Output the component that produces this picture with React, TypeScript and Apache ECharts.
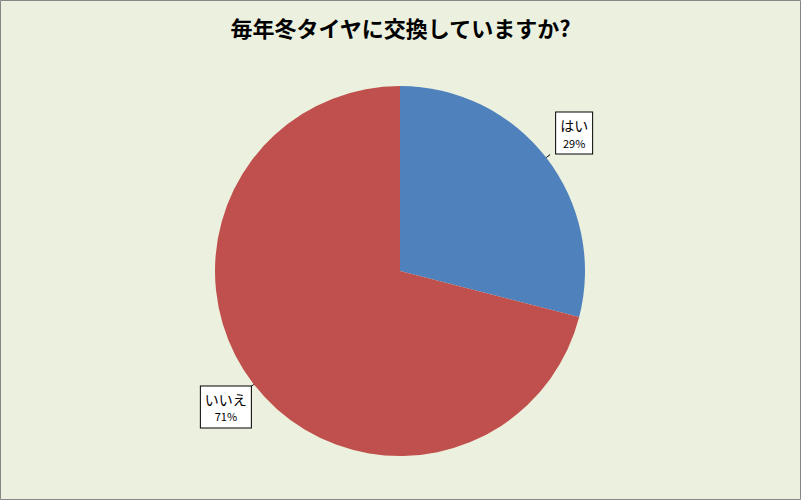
import React, { useEffect, useRef } from 'react'
import * as echarts from 'echarts'

const titleText = '毎年冬タイヤに交換していますか?'
const categories = ['はい', 'いいえ']
const values = [29, 71]
const colors = ['#4F81BD', '#C0504D']

const FONT = '"Noto Sans CJK JP", "Noto Sans", sans-serif'

const App = () => {
  const chartRef = useRef<HTMLDivElement>(null)

  useEffect(() => {
    if (!chartRef.current) return
    const chart = echarts.init(chartRef.current, null, { renderer: 'svg' })

    chart.setOption({
      animation: false,
      backgroundColor: '#EBF1DE',
      title: {
        text: titleText,
        left: 'center',
        top: 11,
        textStyle: { fontFamily: FONT, fontSize: 22, fontWeight: 'bold', color: '#000' },
      },
      graphic: [
        {
          type: 'rect',
          shape: { x: 0.5, y: 0.5, width: 800, height: 499 },
          style: { fill: 'none', stroke: '#868686', lineWidth: 1 },
          silent: true,
        },
      ],
      series: [
        {
          type: 'pie',
          center: [400, 271],
          radius: 185,
          startAngle: 90,
          clockwise: true,
          data: categories.map((name, i) => ({
            name,
            value: values[i],
            itemStyle: { color: colors[i] },
          })),
          label: {
            show: true,
            position: 'outside',
            formatter: '{a|{b}}\n{c|{d}%}',
            backgroundColor: '#fff',
            borderColor: '#000',
            borderWidth: 1,
            padding: [3, 4, 3, 4],
            align: 'center',
            distanceToLabelLine: 2,
            rich: {
              a: { fontFamily: FONT, fontSize: 14, color: '#000', lineHeight: 19 },
              c: { fontFamily: FONT, fontSize: 11, color: '#000', lineHeight: 16, align: 'center' },
            },
          },
          labelLine: {
            show: true,
            length: 5,
            length2: 0,
            lineStyle: { color: '#000', width: 1 },
          },
          labelLayout: (params: any) => {
            const h = params.labelRect.height
            return params.dataIndex === 0 ? { dx: 4, dy: -h / 2 } : { dx: 3, dy: h / 2 - 2 }
          },
          emphasis: { disabled: true },
        },
      ],
    })

    return () => {
      chart.dispose()
    }
  }, [])

  return (
    <div
      ref={chartRef}
      style={{ position: 'absolute', left: 0, top: 0, width: '801px', height: '500px' }}
    />
  )
}

export default App
